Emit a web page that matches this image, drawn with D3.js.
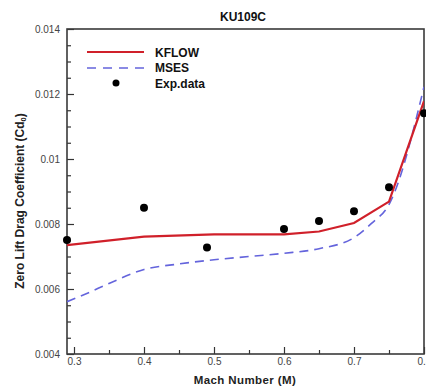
<!DOCTYPE html>
<html>
<head>
<meta charset="utf-8">
<script src="https://cdn.jsdelivr.net/npm/d3@7/dist/d3.min.js"></script>
<style>
  html, body { margin: 0; padding: 0; background: #fff; }
  svg { display: block; font-family: "Liberation Sans", Arial, sans-serif; }
</style>
</head>
<body>
<svg id="chart" width="426" height="387"></svg>
<script>
// KU109C zero-lift drag vs Mach number
const kflowMach = [0.29, 0.4, 0.5, 0.6, 0.65, 0.7, 0.75, 0.8];
const kflowCd0  = [0.00735, 0.00761, 0.00768, 0.00768, 0.00777, 0.00803, 0.00869, 0.01178];

const msesMach = [0.29, 0.32, 0.35, 0.4, 0.45, 0.5, 0.55, 0.6, 0.65, 0.7, 0.725, 0.75, 0.8];
const msesCd0  = [0.00561, 0.00588, 0.00617, 0.00660, 0.00677, 0.00690, 0.00700, 0.00710, 0.00724, 0.00758, 0.00802, 0.00860, 0.01222];

const expMach = [0.29, 0.4, 0.49, 0.6, 0.65, 0.7, 0.75, 0.8];
const expCd0  = [0.00751, 0.00850, 0.00728, 0.00785, 0.00809, 0.00839, 0.00913, 0.01141];

const xTicks = [0.3, 0.4, 0.5, 0.6, 0.7, 0.8];
const yTicks = [0.004, 0.006, 0.008, 0.01, 0.012, 0.014];
const yTickLabels = ["0.004", "0.006", "0.008", "0.01", "0.012", "0.014"];

const svg = d3.select("#chart");
const m = { left: 67, top: 29, right: 424, bottom: 354 };

const x = d3.scaleLinear().domain([0.29, 0.8]).range([m.left, m.right]);
const y = d3.scaleLinear().domain([0.004, 0.014]).range([m.bottom, m.top]);

const red = "#d0202a", blue = "#6464dc";

// clip for curves
svg.append("defs").append("clipPath").attr("id", "plotClip")
  .append("rect").attr("x", m.left).attr("y", m.top)
  .attr("width", m.right - m.left).attr("height", m.bottom - m.top);

// Axes with inward ticks
const xMinor = d3.range(0.3, 0.801, 0.05).map(v => +v.toFixed(2)).filter(v => !xTicks.includes(v));
const yMinor = d3.range(0.004, 0.01401, 0.0005).map(v => +v.toFixed(4)).filter(v => !yTicks.some(t => Math.abs(t - v) < 1e-9));

const xAxis = svg.append("g").attr("transform", `translate(0,${m.bottom})`)
  .call(d3.axisBottom(x).tickValues(xTicks).tickSize(-7).tickPadding(4).tickFormat(d3.format(".1f")));
const xAxisMinor = svg.append("g").attr("transform", `translate(0,${m.bottom})`)
  .call(d3.axisBottom(x).tickValues(xMinor).tickSize(-4).tickFormat(""));
const yAxis = svg.append("g").attr("transform", `translate(${m.left},0)`)
  .call(d3.axisLeft(y).tickValues(yTicks).tickSize(-7).tickPadding(7)
    .tickFormat((d, i) => yTickLabels[i]));
const yAxisMinor = svg.append("g").attr("transform", `translate(${m.left},0)`)
  .call(d3.axisLeft(y).tickValues(yMinor).tickSize(-4).tickFormat(""));

[xAxis, xAxisMinor, yAxis, yAxisMinor].forEach(g => {
  g.select(".domain").remove();
  g.selectAll(".tick line").attr("stroke", "#333").attr("stroke-width", 1.2);
  g.selectAll(".tick text").attr("fill", "#444").attr("font-size", 10)
    .attr("font-family", "Liberation Sans, Arial, sans-serif");
});

// Frame
svg.append("rect").attr("x", m.left).attr("y", m.top)
  .attr("width", m.right - m.left).attr("height", m.bottom - m.top)
  .attr("fill", "none").attr("stroke", "#3a3a3a").attr("stroke-width", 1.6);

const plot = svg.append("g").attr("clip-path", "url(#plotClip)");

// MSES (dashed, smooth)
plot.append("path")
  .datum(msesMach.map((d, i) => [d, msesCd0[i]]))
  .attr("fill", "none").attr("stroke", blue).attr("stroke-width", 1.6)
  .attr("stroke-dasharray", "9,6")
  .attr("d", d3.line().x(d => x(d[0])).y(d => y(d[1])).curve(d3.curveMonotoneX));

// KFLOW (solid)
plot.append("path")
  .datum(kflowMach.map((d, i) => [d, kflowCd0[i]]))
  .attr("fill", "none").attr("stroke", red).attr("stroke-width", 2.2)
  .attr("d", d3.line().x(d => x(d[0])).y(d => y(d[1])));

// Experimental data
svg.append("g").selectAll("circle")
  .data(expMach.map((d, i) => [d, expCd0[i]]))
  .join("circle")
  .attr("cx", d => x(d[0])).attr("cy", d => y(d[1])).attr("r", 4)
  .attr("fill", "#000");

// Title
svg.append("text").attr("x", 243).attr("y", 21).attr("text-anchor", "middle")
  .attr("font-size", 12).attr("font-weight", "bold").attr("fill", "#111").text("KU109C");

// Axis titles
svg.append("text").attr("x", 245).attr("y", 384).attr("text-anchor", "middle")
  .attr("font-size", 11.5).attr("font-weight", "bold").attr("fill", "#222")
  .attr("letter-spacing", 0.4).text("Mach Number (M)");

const yl = svg.append("text").attr("transform", "translate(23.5,201) rotate(-90)")
  .attr("text-anchor", "middle").attr("font-size", 12).attr("font-weight", "bold").attr("fill", "#222");
yl.append("tspan").text("Zero Lift Drag Coefficient (Cd");
yl.append("tspan").attr("font-size", 7.5).attr("dy", 2).text("0");
yl.append("tspan").attr("dy", -2).text(")");

// Legend
const lg = svg.append("g");
lg.append("line").attr("x1", 87).attr("x2", 144).attr("y1", 52).attr("y2", 52)
  .attr("stroke", red).attr("stroke-width", 2.2);
lg.append("line").attr("x1", 87).attr("x2", 144).attr("y1", 68).attr("y2", 68)
  .attr("stroke", blue).attr("stroke-width", 1.6).attr("stroke-dasharray", "9,7");
lg.append("circle").attr("cx", 116).attr("cy", 83).attr("r", 3.5).attr("fill", "#000");
const names = ["KFLOW", "MSES", "Exp.data"];
names.forEach((n, i) => {
  lg.append("text").attr("x", 155).attr("y", 56.5 + i * 15.5)
    .attr("font-size", 12).attr("font-weight", "bold").attr("fill", "#111").text(n);
});
</script>
</body>
</html>
